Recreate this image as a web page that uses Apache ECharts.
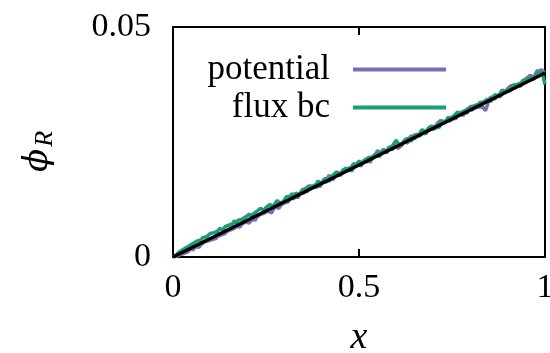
<!DOCTYPE html>
<html>
<head>
<meta charset="utf-8">
<script src="https://cdn.jsdelivr.net/npm/echarts@6/dist/echarts.min.js"></script>
<style>
  html, body { margin: 0; padding: 0; background: #fff; }
  #chart { width: 550px; height: 353px; }
</style>
</head>
<body>
<div id="chart"></div>
<script>
// sample positions along x
const xs = [
  0, 0.005, 0.01, 0.015, 0.02, 0.025, 0.03, 0.035, 0.04, 0.045,
  0.05, 0.055, 0.06, 0.065, 0.07, 0.075, 0.08, 0.085, 0.09, 0.095,
  0.1, 0.105, 0.11, 0.115, 0.12, 0.125, 0.13, 0.135, 0.14, 0.145,
  0.15, 0.155, 0.16, 0.165, 0.17, 0.175, 0.18, 0.185, 0.19, 0.195,
  0.2, 0.205, 0.21, 0.215, 0.22, 0.225, 0.23, 0.235, 0.24, 0.245,
  0.25, 0.255, 0.26, 0.265, 0.27, 0.275, 0.28, 0.285, 0.29, 0.295,
  0.3, 0.305, 0.31, 0.315, 0.32, 0.325, 0.33, 0.335, 0.34, 0.345,
  0.35, 0.355, 0.36, 0.365, 0.37, 0.375, 0.38, 0.385, 0.39, 0.395,
  0.4, 0.405, 0.41, 0.415, 0.42, 0.425, 0.43, 0.435, 0.44, 0.445,
  0.45, 0.455, 0.46, 0.465, 0.47, 0.475, 0.48, 0.485, 0.49, 0.495,
  0.5, 0.505, 0.51, 0.515, 0.52, 0.525, 0.53, 0.535, 0.54, 0.545,
  0.55, 0.555, 0.56, 0.565, 0.57, 0.575, 0.58, 0.585, 0.59, 0.595,
  0.6, 0.605, 0.61, 0.615, 0.62, 0.625, 0.63, 0.635, 0.64, 0.645,
  0.65, 0.655, 0.66, 0.665, 0.67, 0.675, 0.68, 0.685, 0.69, 0.695,
  0.7, 0.705, 0.71, 0.715, 0.72, 0.725, 0.73, 0.735, 0.74, 0.745,
  0.75, 0.755, 0.76, 0.765, 0.77, 0.775, 0.78, 0.785, 0.79, 0.795,
  0.8, 0.805, 0.81, 0.815, 0.82, 0.825, 0.83, 0.835, 0.84, 0.845,
  0.85, 0.855, 0.86, 0.865, 0.87, 0.875, 0.88, 0.885, 0.89, 0.895,
  0.9, 0.905, 0.91, 0.915, 0.92, 0.925, 0.93, 0.935, 0.94, 0.945,
  0.95, 0.955, 0.96, 0.965, 0.97, 0.975, 0.98, 0.985, 0.99, 0.995,
  1
]

// "potential" run (purple)
const potential = [
  0, 0.0001, 0.0002, 0.0006, 0.0005, 0.0009, 0.0008, 0.0012, 0.0011, 0.0017,
  0.0017, 0.0016, 0.0022, 0.0022, 0.0021, 0.0027, 0.0027, 0.0033, 0.0030, 0.0035,
  0.0032, 0.0038, 0.0042, 0.0040, 0.0045, 0.0043, 0.0048, 0.0045, 0.0051, 0.0056,
  0.0054, 0.0059, 0.0056, 0.0062, 0.0067, 0.0065, 0.0065, 0.0071, 0.0070, 0.0076,
  0.0076, 0.0074, 0.0079, 0.0084, 0.0079, 0.0086, 0.0086, 0.0093, 0.0091, 0.0095,
  0.0093, 0.0100, 0.0098, 0.0096, 0.0104, 0.0109, 0.0107, 0.0106, 0.0113, 0.0112,
  0.0118, 0.0115, 0.0120, 0.0127, 0.0123, 0.0127, 0.0134, 0.0128, 0.0135, 0.0142,
  0.0137, 0.0148, 0.0144, 0.0155, 0.0150, 0.0148, 0.0157, 0.0150, 0.0159, 0.0152,
  0.0161, 0.0169, 0.0161, 0.0170, 0.0178, 0.0172, 0.0167, 0.0177, 0.0174, 0.0184,
  0.0176, 0.0184, 0.0192, 0.0187, 0.0185, 0.0195, 0.0186, 0.0194, 0.0200, 0.0196,
  0.0203, 0.0197, 0.0205, 0.0212, 0.0205, 0.0212, 0.0205, 0.0218, 0.0216, 0.0223,
  0.0232, 0.0225, 0.0222, 0.0232, 0.0229, 0.0226, 0.0239, 0.0236, 0.0233, 0.0243,
  0.0239, 0.0236, 0.0234, 0.0243, 0.0252, 0.0251, 0.0247, 0.0257, 0.0264, 0.0260,
  0.0256, 0.0267, 0.0265, 0.0263, 0.0274, 0.0272, 0.0267, 0.0278, 0.0275, 0.0285,
  0.0283, 0.0278, 0.0290, 0.0286, 0.0297, 0.0294, 0.0290, 0.0299, 0.0297, 0.0295,
  0.0306, 0.0304, 0.0300, 0.0309, 0.0315, 0.0311, 0.0307, 0.0318, 0.0314, 0.0324,
  0.0322, 0.0319, 0.0329, 0.0325, 0.0332, 0.0324, 0.0330, 0.0323, 0.0318, 0.0330,
  0.0343, 0.0348, 0.0345, 0.0343, 0.0353, 0.0352, 0.0348, 0.0361, 0.0359, 0.0358,
  0.0366, 0.0364, 0.0373, 0.0370, 0.0367, 0.0375, 0.0373, 0.0371, 0.0382, 0.0381,
  0.0388, 0.0386, 0.0395, 0.0392, 0.0390, 0.0399, 0.0406, 0.0401, 0.0408, 0.0403,
  0.0402
]

// "flux bc" run (green)
const fluxBc = [
  0, 0.0004, 0.0005, 0.0010, 0.0010, 0.0015, 0.0015, 0.0020, 0.0020, 0.0025,
  0.0023, 0.0030, 0.0029, 0.0035, 0.0032, 0.0037, 0.0042, 0.0039, 0.0044, 0.0044,
  0.0051, 0.0048, 0.0053, 0.0050, 0.0056, 0.0062, 0.0059, 0.0059, 0.0066, 0.0064,
  0.0069, 0.0066, 0.0072, 0.0079, 0.0074, 0.0080, 0.0077, 0.0082, 0.0079, 0.0087,
  0.0086, 0.0093, 0.0088, 0.0093, 0.0090, 0.0099, 0.0097, 0.0106, 0.0102, 0.0101,
  0.0108, 0.0106, 0.0114, 0.0111, 0.0110, 0.0117, 0.0123, 0.0118, 0.0122, 0.0119,
  0.0125, 0.0131, 0.0127, 0.0132, 0.0138, 0.0132, 0.0139, 0.0138, 0.0135, 0.0143,
  0.0148, 0.0144, 0.0141, 0.0150, 0.0155, 0.0151, 0.0150, 0.0159, 0.0165, 0.0161,
  0.0159, 0.0166, 0.0172, 0.0168, 0.0164, 0.0173, 0.0178, 0.0174, 0.0185, 0.0182,
  0.0178, 0.0187, 0.0185, 0.0193, 0.0191, 0.0187, 0.0196, 0.0202, 0.0198, 0.0203,
  0.0209, 0.0206, 0.0203, 0.0209, 0.0214, 0.0211, 0.0217, 0.0212, 0.0220, 0.0225,
  0.0222, 0.0218, 0.0227, 0.0234, 0.0232, 0.0229, 0.0237, 0.0236, 0.0242, 0.0248,
  0.0254, 0.0247, 0.0245, 0.0243, 0.0251, 0.0256, 0.0252, 0.0258, 0.0251, 0.0260,
  0.0266, 0.0263, 0.0262, 0.0271, 0.0277, 0.0273, 0.0271, 0.0278, 0.0283, 0.0280,
  0.0277, 0.0286, 0.0285, 0.0281, 0.0290, 0.0296, 0.0291, 0.0297, 0.0304, 0.0302,
  0.0298, 0.0307, 0.0305, 0.0315, 0.0312, 0.0309, 0.0318, 0.0316, 0.0312, 0.0321,
  0.0327, 0.0323, 0.0328, 0.0323, 0.0330, 0.0336, 0.0332, 0.0337, 0.0334, 0.0343,
  0.0341, 0.0338, 0.0347, 0.0353, 0.0350, 0.0349, 0.0357, 0.0363, 0.0360, 0.0359,
  0.0366, 0.0360, 0.0367, 0.0374, 0.0370, 0.0375, 0.0371, 0.0378, 0.0383, 0.0380,
  0.0385, 0.0383, 0.0390, 0.0389, 0.0386, 0.0394, 0.0400, 0.0397, 0.0402, 0.0392,
  0.0375
]

// reference solution (black)
const exactX = [0, 1]
const exactY = [0, 0.04]

const xTicks = [0, 0.5, 1]
const yTicks = [0, 0.05]

const FONT = 'Liberation Serif'

const pairs = (xv, yv) => yv.map((v, i) => [xv[i], v])

var chart = echarts.init(document.getElementById('chart'), null, { renderer: 'canvas' })

var axisBase = {
  axisLine: { show: true, onZero: false, lineStyle: { color: '#000', width: 2 } },
  splitLine: { show: false },
}

var option = {
  animation: false,
  backgroundColor: '#fff',
  grid: { left: 173, right: 5, top: 27, bottom: 96, outerBoundsMode: 'none' },
  legend: {
    orient: 'vertical',
    align: 'right',
    right: 99,
    top: 47,
    itemWidth: 93,
    itemHeight: 4,
    itemGap: 3,
    icon: 'rect',
    data: ['potential', 'flux bc'],
    textStyle: {
      fontFamily: FONT, fontSize: 35, color: '#000',
      lineHeight: 32, padding: [0, 18, 0, 0]
    }
  },
  xAxis: [
    Object.assign({
      type: 'value', min: 0, max: 1, interval: 0.5, position: 'bottom',
      axisTick: { show: true, inside: true, length: 8, lineStyle: { color: '#000', width: 2 } },
      axisLabel: {
        margin: 14, fontFamily: FONT, fontSize: 34, color: '#000',
        formatter: v => xTicks.indexOf(v) >= 0 ? String(v) : ''
      },
      name: 'x', nameLocation: 'middle', nameGap: 62,
      nameTextStyle: { fontFamily: FONT, fontStyle: 'italic', fontSize: 38, color: '#000' }
    }, axisBase),
    Object.assign({
      type: 'value', min: 0, max: 1, interval: 0.5, position: 'top',
      axisTick: { show: true, inside: true, length: 8, lineStyle: { color: '#000', width: 2 } },
      axisLabel: { show: false }
    }, axisBase)
  ],
  yAxis: [
    Object.assign({
      type: 'value', min: 0, max: 0.05, interval: 0.05, position: 'left',
      axisTick: { show: false },
      axisLabel: {
        margin: 22, fontFamily: FONT, fontSize: 34, color: '#000',
        formatter: v => yTicks.indexOf(v) >= 0 ? String(v) : ''
      }
    }, axisBase),
    Object.assign({
      type: 'value', min: 0, max: 0.05, interval: 0.05, position: 'right',
      axisTick: { show: false },
      axisLabel: { show: false }
    }, axisBase)
  ],
  graphic: [
    {
      type: 'text',
      x: 18, y: 172,
      rotation: Math.PI / 2,
      style: {
        text: '{a|ϕ}{b|R}',
        rich: {
          a: { fontFamily: 'DejaVu Serif', fontStyle: 'italic', fontSize: 34, fill: '#000' },
          b: { fontFamily: FONT, fontStyle: 'italic', fontSize: 26, fill: '#000', padding: [14, 0, 0, 2] }
        }
      }
    }
  ],
  series: [
    {
      name: 'potential', type: 'line', showSymbol: false,
      data: pairs(xs, potential),
      lineStyle: { color: '#7570b3', width: 3.5 },
      itemStyle: { color: '#7570b3' }
    },
    {
      name: 'flux bc', type: 'line', showSymbol: false,
      data: pairs(xs, fluxBc),
      lineStyle: { color: '#1b9e77', width: 3.5 },
      itemStyle: { color: '#1b9e77' }
    },
    {
      name: 'exact', type: 'line', showSymbol: false,
      data: pairs(exactX, exactY),
      lineStyle: { color: '#000', width: 3.5 },
      itemStyle: { color: '#000' }
    }
  ]
}

option && chart.setOption(option)
</script>
</body>
</html>
